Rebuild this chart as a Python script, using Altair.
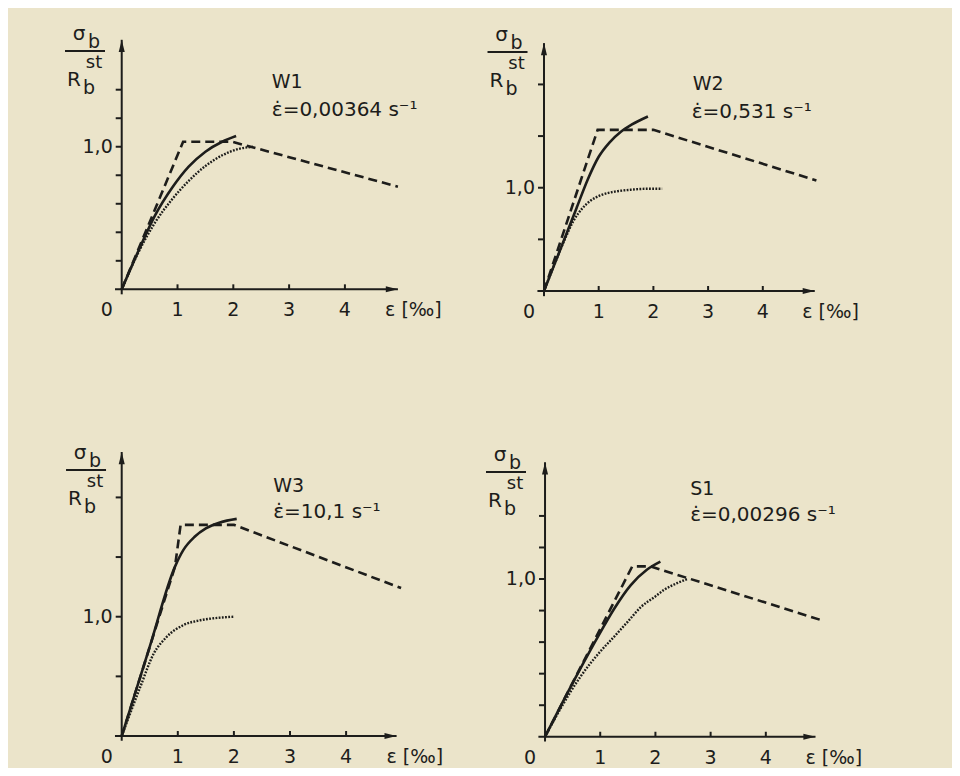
import altair as alt
import pandas as pd

# ---------------- data ----------------
# W1
w1_dashed_x = [0, 1.10, 1.98, 4.95]
w1_dashed_y = [0, 1.035, 1.035, 0.72]
w1_solid_x = [0, 0.3, 0.6, 0.9, 1.2, 1.5, 1.8, 2.05]
w1_solid_y = [0, 0.27, 0.52, 0.71, 0.86, 0.965, 1.035, 1.075]
w1_dotted_x = [0, 0.3, 0.6, 0.9, 1.2, 1.5, 1.8, 2.1, 2.35]
w1_dotted_y = [0, 0.26, 0.47, 0.63, 0.76, 0.865, 0.94, 0.985, 1.0]

# W2
w2_dashed_x = [0, 0.98, 2.0, 4.98]
w2_dashed_y = [0, 1.56, 1.56, 1.07]
w2_solid_x = [0, 0.2, 0.4, 0.6, 0.8, 1.0, 1.2, 1.4, 1.6, 1.9]
w2_solid_y = [0, 0.27, 0.54, 0.81, 1.08, 1.30, 1.44, 1.54, 1.61, 1.69]
w2_dotted_x = [0, 0.2, 0.38, 0.54, 0.7, 0.84, 1.05, 1.27, 1.58, 1.9, 2.16]
w2_dotted_y = [0, 0.27, 0.5, 0.68, 0.8, 0.87, 0.93, 0.96, 0.98, 0.99, 0.99]

# W3
w3_dashed_x = [0, 0.95, 1.05, 2.0, 4.98]
w3_dashed_y = [0, 1.42, 1.77, 1.77, 1.24]
w3_solid_x = [0, 0.5, 0.95, 1.1, 1.3, 1.5, 1.75, 2.05]
w3_solid_y = [0, 0.75, 1.42, 1.56, 1.67, 1.74, 1.79, 1.82]
w3_dotted_x = [0, 0.33, 0.57, 0.8, 1.1, 1.4, 1.7, 2.0]
w3_dotted_y = [0, 0.41, 0.69, 0.83, 0.93, 0.97, 0.99, 1.0]

# S1
s1_dashed_x = [0, 1.58, 1.91, 5.0]
s1_dashed_y = [0, 1.08, 1.08, 0.74]
s1_solid_x = [0, 0.5, 1.0, 1.25, 1.55, 1.85, 2.09]
s1_solid_y = [0, 0.34, 0.66, 0.81, 0.96, 1.06, 1.11]
s1_dotted_x = [0, 0.3, 0.64, 1.0, 1.24, 1.5, 1.73, 2.0, 2.15, 2.4, 2.58]
s1_dotted_y = [0, 0.19, 0.38, 0.54, 0.63, 0.73, 0.82, 0.89, 0.93, 0.975, 1.0]

panel_names = ["W1", "W2", "W3", "S1"]
panel_rates = ["ε\u0307=0,00364 s⁻¹", "ε\u0307=0,531 s⁻¹", "ε\u0307=10,1 s⁻¹", "ε\u0307=0,00296 s⁻¹"]
x_tick_values = [1, 2, 3, 4]
x_tick_labels = ["1", "2", "3", "4"]
x_axis_label = "ε [‰]"
y_label_value = 1.0
y_label_text = "1,0"
y_ticks_fine = [0.2, 0.4, 0.6, 0.8, 1.0, 1.2, 1.4]
y_ticks_coarse = [0.5, 1.0, 1.5, 2.0]

# ---------------- layout / style ----------------
BG = "#ebe4ca"
INK = "#1d1d1b"
FONT = "DejaVu Sans"
PW, PH = 472, 380

layout = [
    dict(x_dom=[-2.038, 6.421], y_dom=[-0.692, 1.973], y_ticks=y_ticks_fine, y_tip=1.75, x_tip=4.95,
         y_start=-0.035, title=(-0.658, 1.671), name_pos=(2.69, 1.454), rate_pos=(2.69, 1.257)),
    dict(x_dom=[-1.170, 7.459], y_dom=[-0.939, 2.740], y_ticks=y_ticks_coarse, y_tip=2.40, x_tip=4.95,
         y_start=-0.05, title=(-0.667, 2.314), name_pos=(2.72, 2.004), rate_pos=(2.70, 1.736)),
    dict(x_dom=[-2.027, 6.387], y_dom=[-0.268, 2.917], y_ticks=y_ticks_coarse, y_tip=2.38, x_tip=4.9,
         y_start=-0.04, title=(-0.636, 2.230), name_pos=(2.70, 2.095), rate_pos=(2.70, 1.878)),
    dict(x_dom=[-1.178, 7.373], y_dom=[-0.198, 2.211], y_ticks=y_ticks_fine, y_tip=1.74, x_tip=4.9,
         y_start=-0.03, title=(-0.707, 1.679), name_pos=(2.63, 1.570), rate_pos=(2.63, 1.406)),
]

curves = [
    (w1_dashed_x, w1_dashed_y, w1_solid_x, w1_solid_y, w1_dotted_x, w1_dotted_y),
    (w2_dashed_x, w2_dashed_y, w2_solid_x, w2_solid_y, w2_dotted_x, w2_dotted_y),
    (w3_dashed_x, w3_dashed_y, w3_solid_x, w3_solid_y, w3_dotted_x, w3_dotted_y),
    (s1_dashed_x, s1_dashed_y, s1_solid_x, s1_solid_y, s1_dotted_x, s1_dotted_y),
]

UP_ARROW = "M0,0L0.55,2.2L-0.55,2.2Z"
RIGHT_ARROW = "M0,0L-2.2,-0.55L-2.2,0.55Z"


def make_panel(i):
    p = layout[i]
    dx_, dy_, sx_, sy_, ox_, oy_ = curves[i]
    xs = alt.Scale(domain=p["x_dom"], nice=False, zero=False)
    ys = alt.Scale(domain=p["y_dom"], nice=False, zero=False)

    def X(f):
        return alt.X(f, type="quantitative", scale=xs, axis=None)

    def Y(f):
        return alt.Y(f, type="quantitative", scale=ys, axis=None)

    def line(xv, yv, **mk):
        df = pd.DataFrame({"x": xv, "y": yv, "o": list(range(len(xv)))})
        return alt.Chart(df).mark_line(color=INK, **mk).encode(
            x=X("x"), y=Y("y"), order=alt.Order("o:Q"))

    def txt(x, y, t, **mk):
        df = pd.DataFrame({"x": [x], "y": [y], "t": [t]})
        base = dict(font=FONT, color=INK, baseline="middle")
        base.update(mk)
        return alt.Chart(df).mark_text(**base).encode(x=X("x"), y=Y("y"), text="t:N")

    layers = []
    # curves
    layers.append(line(ox_, oy_, strokeWidth=2.4, strokeDash=[1.8, 1.4], interpolate="monotone"))
    layers.append(line(dx_, dy_, strokeWidth=2.6, strokeDash=[9, 5]))
    layers.append(line(sx_, sy_, strokeWidth=2.6, interpolate="monotone"))

    # axes lines
    ax_df = pd.DataFrame({"x": [-0.12, 0.0], "y": [0.0, p["y_start"]],
                          "x2": [p["x_tip"], 0.0], "y2": [0.0, p["y_tip"]]})
    layers.append(alt.Chart(ax_df).mark_rule(color=INK, strokeWidth=2).encode(
        x=X("x"), y=Y("y"), x2=alt.X2("x2"), y2=alt.Y2("y2")))
    # arrow heads
    ar_df = pd.DataFrame({"x": [p["x_tip"], 0.0], "y": [0.0, p["y_tip"]],
                          "s": [RIGHT_ARROW, UP_ARROW]})
    layers.append(alt.Chart(ar_df).mark_point(filled=True, size=121, color=INK, opacity=1,
                                              strokeWidth=0).encode(
        x=X("x"), y=Y("y"), shape=alt.Shape("s:N", scale=None)))
    # y ticks (to the left)
    yt_df = pd.DataFrame({"x": [0.0] * len(p["y_ticks"]), "y": p["y_ticks"]})
    layers.append(alt.Chart(yt_df).mark_rule(color=INK, strokeWidth=2, xOffset=-6).encode(
        x=X("x"), x2=alt.X2("x"), y=Y("y")))
    # x ticks (upwards)
    xt_df = pd.DataFrame({"x": x_tick_values, "y": [0.0] * len(x_tick_values)})
    layers.append(alt.Chart(xt_df).mark_rule(color=INK, strokeWidth=2, yOffset=-5).encode(
        x=X("x"), y=Y("y"), y2=alt.Y2("y")))
    # tick labels
    xl_df = pd.DataFrame({"x": x_tick_values, "y": [0.0] * len(x_tick_values), "t": x_tick_labels})
    layers.append(alt.Chart(xl_df).mark_text(font=FONT, fontSize=19, color=INK, dy=21,
                                             baseline="middle").encode(
        x=X("x"), y=Y("y"), text="t:N"))
    layers.append(txt(0.0, 0.0, "0", fontSize=19, dx=-15, dy=21))
    layers.append(txt(4.72, 0.0, x_axis_label, fontSize=19, dy=21, align="left"))
    layers.append(txt(0.0, y_label_value, y_label_text, fontSize=19, dx=-9, align="right"))

    # y title: sigma_b / R_b^st
    tx, ty = p["title"]
    bar_df = pd.DataFrame({"x": [tx], "y": [ty]})
    layers.append(alt.Chart(bar_df).mark_rule(color=INK, strokeWidth=2, xOffset=-20,
                                              x2Offset=20).encode(
        x=X("x"), x2=alt.X2("x"), y=Y("y")))
    layers.append(txt(tx, ty, "σ", fontSize=20, dx=-6, dy=-17))
    layers.append(txt(tx, ty, "b", fontSize=19, dx=9, dy=-9))
    layers.append(txt(tx, ty, "st", fontSize=18, dx=9, dy=12))
    layers.append(txt(tx, ty, "R", fontSize=20, dx=-11, dy=29))
    layers.append(txt(tx, ty, "b", fontSize=19, dx=4, dy=37))

    # annotations
    nx, ny = p["name_pos"]
    rx, ry = p["rate_pos"]
    layers.append(txt(nx, ny, panel_names[i], fontSize=19, align="left"))
    layers.append(txt(rx, ry, panel_rates[i], fontSize=20, align="left"))

    return alt.layer(*layers).properties(width=PW, height=PH)


panels = [make_panel(i) for i in range(4)]

chart = alt.vconcat(
    alt.hconcat(panels[0], panels[1], spacing=0),
    alt.hconcat(panels[2], panels[3], spacing=0),
    spacing=0,
).properties(background=BG, padding=0).configure_view(strokeWidth=0)

chart.save("out.html", embed_options={"renderer": "svg", "actions": False})
